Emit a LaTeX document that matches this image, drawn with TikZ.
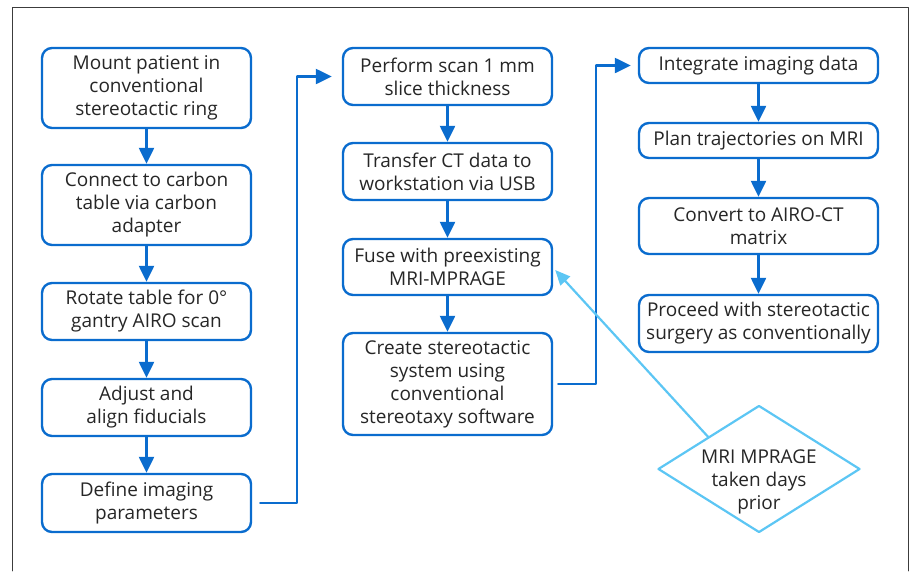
\documentclass[tikz,border=0pt]{standalone}
\usepackage{fontspec}
\setmainfont{Open Sans}
\usetikzlibrary{arrows.meta,shapes.geometric}
\definecolor{flowblue}{HTML}{0A6CCE}
\definecolor{skyblue}{HTML}{5CC6F4}
\definecolor{framegray}{HTML}{3C3C3C}
\tikzset{
  stepbox/.style={draw=flowblue,line width=2.4pt,rounded corners=10pt,fill=white,align=center,inner sep=2pt,text=black!85,font=\fontsize{19}{23}\selectfont},
  flow/.style={draw=flowblue,line width=2.4pt,->},
  hint/.style={draw=skyblue,line width=2.2pt,-{Triangle[width=13pt,length=15pt]}}
}

\begin{document}
\begin{tikzpicture}[line cap=round,line join=round,>={Triangle[width=15pt,length=16pt]},x=1pt,y=-1pt]
                \useasboundingbox (0,0) rectangle (914,571);
                \draw [framegray,line width=0.8pt] (12,571) -- (12,7) -- (908,7) -- (908,571);
                \node [stepbox,minimum width=209pt,minimum height=80pt] (mount) at (146.5,88) {Mount patient in\\conventional\\stereotactic ring};
                \node [stepbox,minimum width=209pt,minimum height=80pt] (connect) at (146.5,205) {Connect to carbon\\table via carbon\\adapter};
                \node [stepbox,minimum width=209pt,minimum height=57pt] (rotate) at (146.5,311.5) {Rotate table for 0°\\gantry AIRO scan};
                \node [stepbox,minimum width=209pt,minimum height=57pt] (adjust) at (146.5,407.5) {Adjust and\\align fiducials};
                \node [stepbox,minimum width=209pt,minimum height=58pt] (define) at (146.5,503) {Define imaging\\parameters};
                \node [stepbox,minimum width=209pt,minimum height=57pt] (perform) at (447.5,76.5) {Perform scan 1 mm\\slice thickness};
                \node [stepbox,minimum width=209pt,minimum height=57pt] (transfer) at (447.5,171.5) {Transfer CT data to\\workstation via USB};
                \node [stepbox,minimum width=209pt,minimum height=56pt] (fuse) at (447.5,267) {Fuse with preexisting\\MRI-MPRAGE};
                \node [stepbox,minimum width=209pt,minimum height=102pt] (create) at (447.5,384) {Create stereotactic\\system using\\conventional\\stereotaxy software};
                \node [stepbox,minimum width=239pt,minimum height=35pt] (integrate) at (758.5,65.5) {Integrate imaging data};
                \node [stepbox,minimum width=239pt,minimum height=35pt] (plan) at (758.5,140.5) {Plan trajectories on MRI};
                \node [stepbox,minimum width=239pt,minimum height=56pt] (convert) at (758.5,226) {Convert to AIRO-CT\\matrix};
                \node [stepbox,minimum width=239pt,minimum height=57pt] (proceed) at (758.5,323.5) {Proceed with stereotactic\\surgery as conventionally};
                \node [diamond,draw=skyblue,line width=2.2pt,fill=white,inner sep=0pt,minimum width=202pt,minimum height=127pt] (prior) at (759,469) {};
                \node [align=center,text=black!85,font=\fontsize{19}{23}\selectfont] (priortxt) at (759,482) {MRI MPRAGE\\taken days\\prior};
                \draw [flow] (mount) -- (connect);
                \draw [flow] (connect) -- (rotate);
                \draw [flow] (rotate) -- (adjust);
                \draw [flow] (adjust) -- (define);
                \draw [flow] ([xshift=8pt]define.east) -- ++(37,0) |- ([xshift=-10pt]perform.west);
                \draw [flow] (perform) -- (transfer);
                \draw [flow] (transfer) -- (fuse);
                \draw [flow] (fuse) -- (create);
                \draw [flow] ([xshift=5pt]create.east) -- ++(38,0) |- ([xshift=-7pt]integrate.west);
                \draw [flow] (integrate) -- (plan);
                \draw [flow] (plan) -- (convert);
                \draw [flow] (convert) -- (proceed);
                \draw [hint] (prior.north west) -- ([xshift=2pt,yshift=-3pt]fuse.east);
                \end{tikzpicture}
\end{document}
